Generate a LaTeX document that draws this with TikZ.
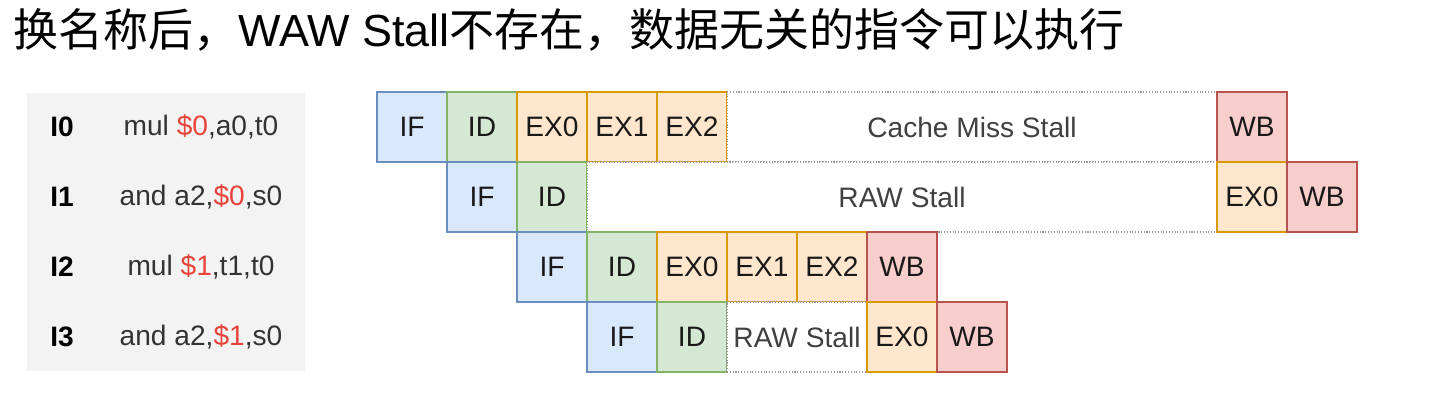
\documentclass[tikz,border=0pt]{standalone}
\usepackage{fontspec}
\setmainfont{Liberation Sans}
\newfontfamily\cjk{Noto Sans CJK SC}
\definecolor{iffill}{HTML}{DAE8FC}
\definecolor{ifline}{HTML}{6C8EBF}
\definecolor{idfill}{HTML}{D5E8D4}
\definecolor{idline}{HTML}{82B366}
\definecolor{exfill}{HTML}{FFE6CC}
\definecolor{exline}{HTML}{D79B00}
\definecolor{wbfill}{HTML}{F8CECC}
\definecolor{wbline}{HTML}{B85450}
\definecolor{stallline}{HTML}{999999}
\definecolor{regred}{HTML}{E8443A}
\definecolor{tablegray}{HTML}{F3F3F3}
\begin{document}
\begin{tikzpicture}[x=0.02cm,y=-0.02cm,
  cell/.style={draw, line width=0.6pt, minimum width=1.4cm, minimum height=1.4cm,
    inner sep=0pt, text=black!90, font=\fontsize{16}{19}\selectfont},
  ifbox/.style={cell, fill=iffill, draw=ifline},
  idbox/.style={cell, fill=idfill, draw=idline},
  exbox/.style={cell, fill=exfill, draw=exline},
  wbbox/.style={cell, fill=wbfill, draw=wbline},
  stallbox/.style={cell, fill=white, draw=stallline, densely dotted, text=black!75, minimum width=#1},
  instr/.style={inner sep=0pt, text=black!80, font=\fontsize{16}{19}\selectfont}]
\useasboundingbox (0,0) rectangle (1440,401);

% title
\node[anchor=base west, inner sep=0pt, font=\fontsize{25.6}{30}\selectfont] (title) at (13,47)
  {{\cjk 换名称后，}WAW Stall{\cjk 不存在，数据无关的指令可以执行}};

% instruction list
\fill[tablegray] (27,93) rectangle (305,371);
\foreach \r/\ins in {0/{mul \textcolor{regred}{\$0},a0,t0},
                     1/{and a2,\textcolor{regred}{\$0},s0},
                     2/{mul \textcolor{regred}{\$1},t1,t0},
                     3/{and a2,\textcolor{regred}{\$1},s0}}{
  \node[instr, anchor=west, font=\fontsize{16}{19}\selectfont\bfseries, text=black] (lab\r) at (50,{127+70*\r}) {I\r};
  \node[instr] (ins\r) at (201,{127+70*\r}) {\ins};
}

% I0
\node[ifbox] (if0) at (412,127) {IF};
\node[idbox] (id0) at (482,127) {ID};
\node[exbox] (exa0) at (552,127) {EX0};
\node[exbox] (exb0) at (622,127) {EX1};
\node[exbox] (exc0) at (692,127) {EX2};
\node[stallbox=9.8cm] (stall0) at (972,127) {Cache Miss Stall};
\node[wbbox] (wb0) at (1252,127) {WB};

% I1
\node[ifbox] (if1) at (482,197) {IF};
\node[idbox] (id1) at (552,197) {ID};
\node[stallbox=12.6cm] (stall1) at (902,197) {RAW Stall};
\node[exbox] (exa1) at (1252,197) {EX0};
\node[wbbox] (wb1) at (1322,197) {WB};

% I2
\node[ifbox] (if2) at (552,267) {IF};
\node[idbox] (id2) at (622,267) {ID};
\node[exbox] (exa2) at (692,267) {EX0};
\node[exbox] (exb2) at (762,267) {EX1};
\node[exbox] (exc2) at (832,267) {EX2};
\node[wbbox] (wb2) at (902,267) {WB};

% I3
\node[ifbox] (if3) at (622,337) {IF};
\node[idbox] (id3) at (692,337) {ID};
\node[stallbox=2.8cm] (stall3) at (797,337) {RAW Stall};
\node[exbox] (exa3) at (902,337) {EX0};
\node[wbbox] (wb3) at (972,337) {WB};
\end{tikzpicture}
\end{document}
